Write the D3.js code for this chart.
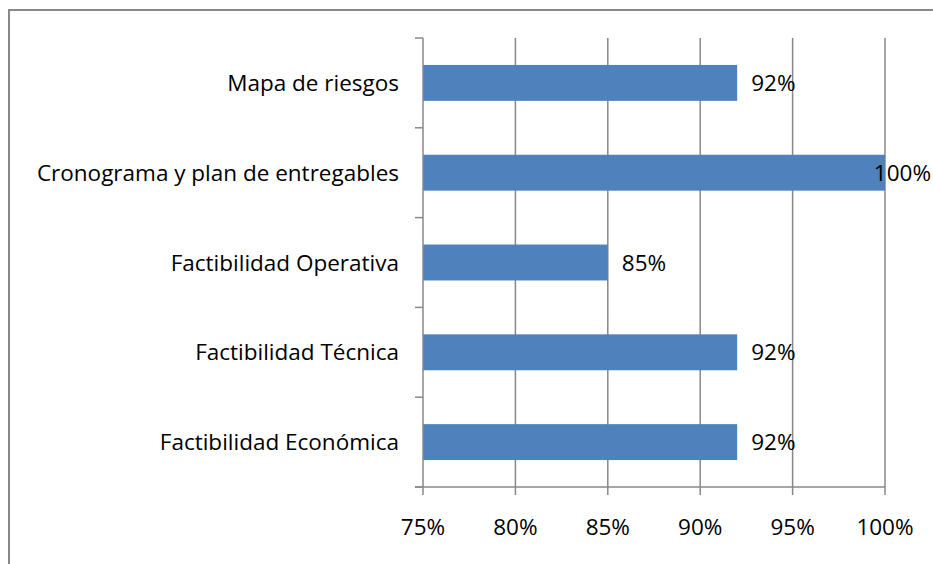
<!DOCTYPE html>
<html>
<head>
<meta charset="utf-8">
<script src="https://cdn.jsdelivr.net/npm/d3@7"></script>
<style>
  body { margin: 0; background: #fff; }
  svg { display: block; font-family: "Open Sans", sans-serif; }
</style>
</head>
<body>
<svg width="933" height="564"></svg>
<script>
let categories = ["Mapa de riesgos", "Cronograma y plan de entregables", "Factibilidad Operativa", "Factibilidad Técnica", "Factibilidad Económica"];
let values = [0.92, 1.00, 0.85, 0.92, 0.92];
let tickValues = [0.75, 0.80, 0.85, 0.90, 0.95, 1.00];

let svg = d3.select("svg"),
    W = +svg.attr("width"),
    margin = { top: 38, left: 423, right: 48, bottom: 77 },
    width = W - margin.left - margin.right,
    height = +svg.attr("height") - margin.top - margin.bottom;

// outer chart frame (cropped at right and bottom)
svg.append("path")
  .attr("d", "M9,566 L9,10 L940,10")
  .attr("fill", "none")
  .attr("stroke", "#888")
  .attr("stroke-width", 2);

let g = svg.append("g").attr("transform", `translate(${margin.left},${margin.top})`);

let x = d3.scaleLinear().domain([0.75, 1.00]).range([0, width]);
let y = d3.scaleBand().domain(categories).range([0, height]).paddingInner(0.6).paddingOuter(0.3);

// vertical gridlines
g.selectAll(".grid")
  .data(tickValues.slice(1))
  .enter().append("line")
  .attr("x1", d => x(d)).attr("x2", d => x(d))
  .attr("y1", 0).attr("y2", height)
  .attr("stroke", "#888")
  .attr("stroke-width", 1.5);

// bars
g.selectAll(".bar")
  .data(values)
  .enter().append("rect")
  .attr("x", 0)
  .attr("y", (d, i) => y(categories[i]))
  .attr("width", d => x(d))
  .attr("height", y.bandwidth())
  .attr("fill", "#4F81BD");

// value labels, pushed back inside when they would run off the edge
let fs = 22.5;
g.selectAll(".val")
  .data(values)
  .enter().append("text")
  .attr("y", (d, i) => y(categories[i]) + y.bandwidth() / 2)
  .attr("dy", "0.36em")
  .attr("font-size", fs)
  .attr("fill", "#000")
  .text(d => Math.round(d * 100) + "%")
  .each(function(d) {
    let w = this.getComputedTextLength();
    let lx = x(d) + 14;
    if (margin.left + lx + w > W - 2) lx = W - 2 - margin.left - w;
    d3.select(this).attr("x", lx);
  });

// y axis: line, ticks between categories
let step = height / categories.length;
g.append("line")
  .attr("x1", 0).attr("x2", 0).attr("y1", 0).attr("y2", height)
  .attr("stroke", "#888").attr("stroke-width", 1.5);
g.selectAll(".ytick")
  .data(d3.range(categories.length + 1))
  .enter().append("line")
  .attr("x1", -8).attr("x2", 0)
  .attr("y1", d => d * step).attr("y2", d => d * step)
  .attr("stroke", "#888").attr("stroke-width", 1.5);
g.selectAll(".ylab")
  .data(categories)
  .enter().append("text")
  .attr("x", -24)
  .attr("y", d => y(d) + y.bandwidth() / 2)
  .attr("dy", "0.36em")
  .attr("text-anchor", "end")
  .attr("font-size", fs)
  .attr("fill", "#000")
  .text(d => d);

// x axis
g.append("line")
  .attr("x1", -8).attr("x2", width).attr("y1", height).attr("y2", height)
  .attr("stroke", "#888").attr("stroke-width", 1.5);
g.selectAll(".xtick")
  .data(tickValues)
  .enter().append("line")
  .attr("x1", d => x(d)).attr("x2", d => x(d))
  .attr("y1", height).attr("y2", height + 8)
  .attr("stroke", "#888").attr("stroke-width", 1.5);
g.selectAll(".xlab")
  .data(tickValues)
  .enter().append("text")
  .attr("x", d => x(d))
  .attr("y", height + 40)
  .attr("dy", "0.36em")
  .attr("text-anchor", "middle")
  .attr("font-size", fs)
  .attr("fill", "#000")
  .text(d => Math.round(d * 100) + "%");
</script>
</body>
</html>
